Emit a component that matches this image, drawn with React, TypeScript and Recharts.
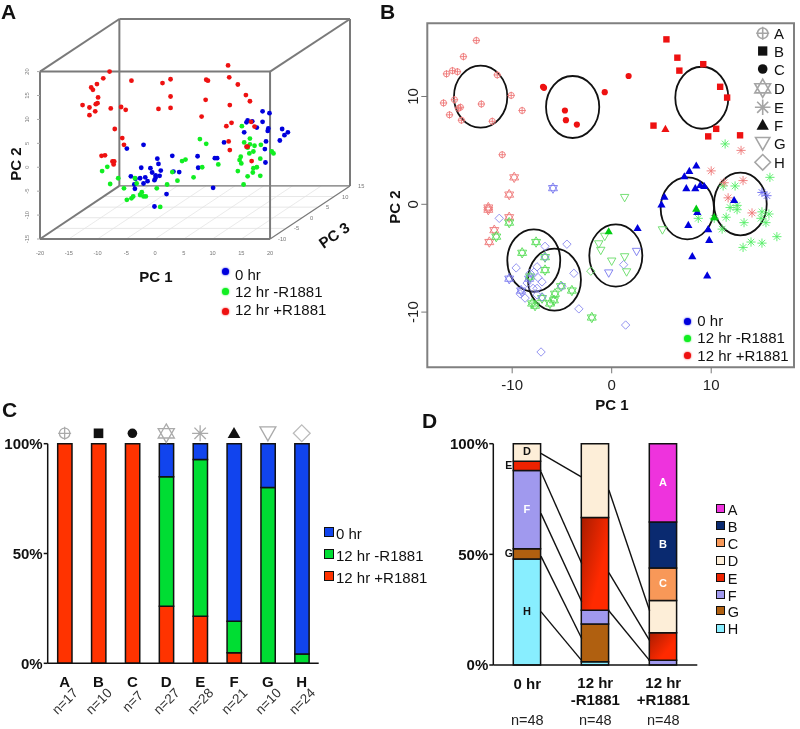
import React from 'react';
import {
  BarChart, Bar, Cell, LabelList, ScatterChart, Scatter, XAxis, YAxis,
  ReferenceLine, ReferenceArea, ReferenceDot,
} from 'recharts';

const FONT = '"Liberation Sans", Arial, sans-serif';
const BLUE = '#0000dd';
const GREEN = '#11ee22';
const RED = '#ee1111';

// Panel A: PC1 / PC2 as they read against the front face of the box
const aBlue = [
  [18.7, 11.7], [19.9, 11.3], [16.1, 9.8], [16.9, 9.6], [15.9, 9.4], [18.7, 9.5], [17.7, 8.3], [19.7, 8.1],
  [19.6, 7.6], [15.5, 7.3], [22.1, 8.0], [23.1, 7.3], [22.5, 6.7], [21.7, 5.6], [19.3, 5.4], [19.1, 3.8],
  [12.0, 5.2], [19.2, 1.0], [-2.0, 4.7], [-4.9, 3.9], [0.4, 1.8], [3.0, 2.4], [0.6, 0.7], [-2.4, -0.1],
  [-0.8, -0.2], [-0.5, -1.1], [1.0, -0.7], [0.8, -1.8], [0.1, -2.2], [-0.1, -2.7], [-1.7, -2.1], [-1.3, -2.9],
  [-2.0, -3.4], [-4.2, -1.9], [-2.6, -2.3], [-3.4, -2.4], [-3.6, -3.6], [-3.5, -4.5], [3.2, -0.9], [4.2, -1.0],
  [7.4, 2.3], [7.5, -0.1], [10.4, 1.9], [10.8, 1.9], [10.1, -4.3], [2.0, -5.6], [-0.1, -8.2], [0.1, -1.7],
];
const aGreen = [
  [15.1, 8.6], [7.8, 5.9], [8.9, 4.9], [16.5, 6.0], [15.5, 5.2], [16.5, 4.8], [17.3, 4.5], [18.4, 4.7],
  [16.1, 4.1], [17.1, 3.3], [16.4, 2.9], [14.9, 2.2], [14.7, 1.5], [15.0, 0.8], [20.3, 3.3], [20.6, 2.9],
  [18.3, 1.8], [17.7, 0.0], [17.1, -0.2], [17.0, -1.1], [16.1, -1.9], [18.3, -1.8], [14.4, -0.8], [15.4, -3.6],
  [11.0, 0.6], [8.2, 0.0], [6.7, -2.1], [5.3, 1.6], [4.7, 1.3], [3.0, -1.0], [3.9, -2.8], [2.1, -3.6],
  [0.3, -4.4], [-3.5, -2.3], [-6.4, -2.3], [-8.3, 0.1], [-9.2, -0.8], [-7.8, -3.5], [-3.2, -3.4], [-5.4, -4.4],
  [-4.9, -6.8], [-4.1, -6.5], [-3.8, -6.1], [-2.6, -5.8], [-2.3, -5.2], [-2.0, -6.1], [-1.6, -6.1], [0.9, -8.3],
];
const aRed = [
  [12.7, 21.3], [12.9, 18.8], [14.4, 17.3], [15.8, 15.1], [16.5, 13.8], [13.0, 13.0], [8.9, 18.3], [9.2, 18.1],
  [8.8, 14.1], [8.1, 10.6], [2.7, 18.4], [1.3, 17.6], [2.7, 14.8], [2.7, 12.4], [0.6, 12.2], [-4.1, 18.1],
  [-7.9, 20.0], [-9.0, 18.6], [-10.1, 17.4], [-11.1, 16.7], [-10.8, 16.2], [-9.9, 14.6], [-10.0, 13.4], [-10.3, 13.2],
  [-11.4, 12.5], [-12.6, 13.0], [-10.4, 11.7], [-11.4, 10.9], [-7.7, 12.3], [-5.9, 12.6], [-5.1, 12.0], [-7.0, 8.0],
  [-5.7, 6.1], [-5.4, 4.7], [-9.3, 2.4], [-8.7, 2.5], [-7.4, 1.2], [-7.1, 1.2], [-7.2, 0.6], [13.3, 9.3],
  [12.4, 8.6], [16.7, 9.5], [17.3, 8.5], [12.8, 5.4], [13.0, 3.6], [16.1, 4.3], [16.8, 1.3], [15.9, 4.3],
];
const aPc1Ticks = [-20, -15, -10, -5, 0, 5, 10, 15, 20];
const aPc2Ticks = [-15, -10, -5, 0, 5, 10, 15, 20];
const aPc3Ticks = [-10, -5, 0, 5, 10, 15];

// Panel B: PC1 / PC2, one list per symbol and treatment
const bRedA = [
  [-13.6, 15.2], [-14.9, 13.7], [-16.6, 12.1], [-16.0, 12.4], [-15.5, 12.3], [-11.5, 12.0], [-10.1, 10.1], [-9.0, 8.7], [-16.9, 9.4],
  [-15.8, 9.7], [-16.3, 8.3], [-15.2, 9.0], [-15.4, 8.9], [-15.1, 7.8], [-13.1, 9.3], [-12.0, 7.7], [-11.0, 4.6],
];
const bRedB = [[5.5, 15.3], [6.6, 13.6], [6.8, 12.4], [9.2, 13.0], [10.9, 10.9], [11.6, 9.9], [4.2, 7.3], [10.5, 7.0], [9.7, 6.3], [12.9, 6.4]];
const bRedC = [[1.7, 11.9], [-0.7, 10.4], [-6.9, 10.9], [-6.8, 10.8], [-4.7, 8.7], [-4.6, 7.8], [-3.5, 7.4]];
const bRedD = [[-9.8, 2.5], [-10.3, 0.9], [-12.4, -0.3], [-12.4, -0.5], [-10.3, -1.2], [-11.8, -2.4], [-12.3, -3.5]];
const bBlueD = [[-5.9, 1.5], [-10.3, -6.9], [-9.1, -8.0], [-8.3, -6.9]];
const bGreenD = [
  [-10.3, -1.7], [-11.6, -3.0], [-7.6, -3.5], [-9.0, -4.5], [-6.7, -4.9], [-6.7, -6.1], [-8.2, -6.7], [-5.1, -7.6],
  [-4.0, -8.0], [-5.7, -8.3], [-5.8, -8.9], [-6.2, -9.2], [-7.0, -8.7], [-8.0, -9.2], [-7.7, -9.4], [-2.0, -10.5],
];
const bRedE = [[13.0, 5.0], [10.0, 3.1], [13.2, 2.2], [11.3, 2.0], [11.7, 0.6], [14.1, -0.8]];
const bBlueE = [[15.1, 1.1], [15.6, 0.8]];
const bGreenE = [
  [11.4, 5.6], [15.9, 2.5], [12.4, 1.7], [11.2, 1.7], [12.6, -0.1], [11.9, -0.3], [12.6, -0.5], [11.5, -1.2], [10.3, -1.3], [8.7, -1.3],
  [13.3, -1.7], [15.1, -0.7], [15.8, -0.9], [15.0, -1.3], [15.5, -1.7], [16.6, -3.0], [15.1, -3.6], [14.0, -3.5], [13.2, -4.0], [11.1, -2.3],
];
const bRedF = [[5.4, 7.0]];
const bGreenF = [[8.5, -0.4], [-0.3, -2.5], [10.3, -1.2]];
const bBlueF = [
  [8.5, 3.6], [7.8, 3.1], [7.3, 2.6], [7.5, 1.5], [8.4, 1.5], [8.9, 1.8], [9.3, 1.7], [5.3, 0.7], [5.0, 0.0],
  [8.6, -0.7], [7.7, -1.9], [9.7, -2.3], [9.8, -3.3], [12.3, 0.4], [2.6, -2.2], [8.1, -4.8], [9.6, -6.6],
];
const bGreenG = [[1.3, 0.6], [-0.7, -3.0], [-1.3, -3.7], [-1.1, -4.3], [0.0, -5.3], [1.3, -4.9], [1.5, -6.3], [5.1, -2.4]];
const bBlueG = [[2.5, -4.4], [-0.3, -6.4]];
const bGreenH = [[-2.1, -6.2]];
const bBlueH = [
  [-11.3, -1.3], [-6.7, -3.9], [-4.5, -3.7], [-9.6, -5.9], [-7.5, -5.8], [-7.8, -6.3], [-7.4, -6.8], [-7.0, -7.2],
  [-3.8, -6.4], [-7.5, -7.8], [-8.7, -8.7], [-9.2, -8.3], [-7.0, -8.6], [-7.5, -8.4], [-5.0, -7.6], [-3.3, -9.7],
  [-6.7, -4.9], [1.2, -5.6], [1.4, -11.2], [-7.1, -13.7], [-8.2, -6.4], [-7.9, -7.8], [-8.5, -7.3],
];
// x1, x2, y1, y2 of the cluster rings
const bRings = [
  [-15.85, -10.49, 12.86, 7.11], [-6.6, -1.25, 11.9, 6.15], [6.39, 11.72, 12.76, 7.01], [4.92, 10.28, 2.5, -3.25],
  [10.28, 15.58, 2.93, -2.88], [-2.25, 3.08, -1.86, -7.64], [-10.49, -5.17, -2.32, -8.11], [-8.41, -3.09, -4.12, -9.87],
];
const bTicks = [-10, 0, 10];
const bLegendKinds = ['A', 'B', 'C', 'D', 'E', 'F', 'G', 'H'];

// Panel C: percent of each gene cluster
const cNames = ['A', 'B', 'C', 'D', 'E', 'F', 'G', 'H'];
const cCounts = [17, 10, 7, 27, 28, 21, 10, 24];
const cRed = [100, 100, 100, 26, 21.4, 4.8, 0, 0];
const cGreen = [0, 0, 0, 59, 71.4, 14.3, 80, 4.2];
const cBlue = [0, 0, 0, 15, 7.2, 80.9, 20, 95.8];

// Panel D: percent of each treatment, bottom of the stack first
const dNames = ['0 hr', '12 hr|-R1881', '12 hr|+R1881'];
const dH = [47.9, 1.5, 0];
const dG = [4.6, 17, 0];
const dF = [35.4, 6.2, 2.1];
const dE = [4.2, 42, 12.5];
const dD = [7.9, 33.3, 14.6];
const dC = [0, 0, 14.6];
const dB = [0, 0, 20.8];
const dA = [0, 0, 35.4];
const dColors: Record<string, string> = {
  A: '#ee33dd', B: '#0a2a70', C: '#f89858', D: '#fdeed8', E: '#ee2200', F: '#a099ee', G: '#b06010', H: '#88eeff',
};
const dStackOrder = ['H', 'G', 'F', 'E', 'D', 'C', 'B', 'A'];
const dLegendOrder = ['A', 'B', 'C', 'D', 'E', 'F', 'G', 'H'];
const dLabelBar: Record<string, number> = { A: 2, B: 2, C: 2, D: 0, E: 0, F: 0, G: 0, H: 0 };
// position across the bars (0 to 2), percent at each end
const dLinks = [
  [0.467, 95.6, 0.867, 84.9], [0.467, 87.3, 0.867, 45.9], [0.467, 68.5, 0.867, 28.6], [0.467, 49.2, 0.867, 12.0], [0.467, 24.1, 0.867, 2.0],
  [1.133, 79.1, 1.533, 24.5], [1.133, 41.7, 1.533, 11.0], [1.133, 24.5, 1.533, 2.0],
];

const toPoints = (rows: number[][]) => rows.map(([x, y]) => ({ x, y }));

const MarkShape = ({ kind, cx, cy, color, sw = 0.9, scale = 1 }: any) => {
  const r = scale;
  if (kind === 'A') {
    return (
      <g stroke={color} strokeWidth={sw} fill="none">
        <circle cx={cx} cy={cy} r={3 * r} />
        <path d={`M${cx - 3.7 * r} ${cy}H${cx + 3.7 * r}M${cx} ${cy - 3.7 * r}V${cy + 3.7 * r}`} />
      </g>
    );
  }
  if (kind === 'B') return <rect x={cx - 3.2 * r} y={cy - 3.2 * r} width={6.4 * r} height={6.4 * r} fill={color} />;
  if (kind === 'C') return <circle cx={cx} cy={cy} r={3.1 * r} fill={color} />;
  if (kind === 'D') {
    const a = 5.2 * r;
    const b = 4.5 * r;
    const h = 2.6 * r;
    return (
      <path
        d={`M${cx} ${cy - a}L${cx + b} ${cy + h}H${cx - b}ZM${cx} ${cy + a}L${cx + b} ${cy - h}H${cx - b}Z`}
        stroke={color} strokeWidth={sw} fill="none"
      />
    );
  }
  if (kind === 'E') {
    const a = 4.6 * r;
    const d = 3.25 * r;
    return (
      <path
        d={`M${cx - a} ${cy}H${cx + a}M${cx} ${cy - a}V${cy + a}M${cx - d} ${cy - d}L${cx + d} ${cy + d}M${cx - d} ${cy + d}L${cx + d} ${cy - d}`}
        stroke={color} strokeWidth={sw} fill="none"
      />
    );
  }
  if (kind === 'F') {
    const b = 4.1 * r;
    return <path d={`M${cx} ${cy - b}L${cx + b} ${cy + 3.1 * r}H${cx - b}Z`} fill={color} />;
  }
  if (kind === 'G') {
    const b = 4.2 * r;
    return <path d={`M${cx - b} ${cy - 3.4 * r}H${cx + b}L${cx} ${cy + 4 * r}Z`} stroke={color} strokeWidth={sw} fill="none" />;
  }
  const b = 4.2 * r;
  return <path d={`M${cx} ${cy - b}L${cx + b} ${cy}L${cx} ${cy + b}L${cx - b} ${cy}Z`} stroke={color} strokeWidth={sw} fill="none" />;
};

const Caption = ({ x, y, text, size = 15, bold = false, rotate = 0, left = false, color = '#111' }: any) => (
  <div
    style={{
      position: 'absolute', left: x, top: y, fontSize: size, fontWeight: bold ? 700 : 400, color, whiteSpace: 'nowrap',
      lineHeight: 1, transform: `translate(${left ? '0' : '-50%'}, -50%) rotate(${rotate}deg)`,
    }}
  >
    {text}
  </div>
);

const Swatch = ({ x, y, size, color }: any) => (
  <div
    style={{
      position: 'absolute', left: x, top: y, width: size, height: size, background: color,
      border: '1.5px solid #111', boxSizing: 'border-box',
    }}
  />
);

const Dot = ({ x, y, color }: any) => (
  <div
    style={{
      position: 'absolute', left: x - 3.5, top: y - 3.5, width: 7, height: 7, borderRadius: 4, background: color,
      boxShadow: `0 0 2px ${color}`,
    }}
  />
);

const dotShape = (color: string) => (p: any) => <circle cx={p.cx} cy={p.cy} r={2.4} fill={color} />;
const markShape = (kind: string, color: string) => (p: any) => <MarkShape kind={kind} cx={p.cx} cy={p.cy} color={color} />;

const ringShape = (p: any) => (
  <ellipse
    cx={p.x + p.width / 2} cy={p.y + p.height / 2} rx={p.width / 2} ry={p.height / 2}
    fill="none" stroke="#111" strokeWidth={1.8}
  />
);

const BOX = '#7a7a7a';
const PanelA = () => {
  // Depth on the floor: each PC3 step moves back along the box edge
  const floor = (pc1: number, pc3: number) => ({ x: pc1 + ((pc3 + 10) / 25) * 13.9, y: -15 + ((pc3 + 10) / 25) * 11.1 });
  const line = (a: any, b: any, key: string, stroke = BOX, w = 2) => (
    <ReferenceLine key={key} segment={[a, b]} stroke={stroke} strokeWidth={w} ifOverflow="extendDomain" />
  );
  return (
    <div style={{ position: 'absolute', left: 0, top: 0 }}>
      <ScatterChart width={400} height={300} margin={{ top: 19, right: 50, bottom: 0, left: 0 }}>
        <XAxis
          dataKey="x" type="number" domain={[-20, 33.9]} ticks={aPc1Ticks} height={61} interval={0}
          tick={{ fontSize: 5.7, fill: '#777' }} tickLine={false} axisLine={false} tickMargin={6} allowDataOverflow
        />
        <YAxis
          dataKey="y" type="number" domain={[-15, 31]} ticks={aPc2Ticks} width={40} interval={0}
          axisLine={false} tickSize={3} tickLine={{ stroke: '#aaa' }} tickMargin={8} allowDataOverflow
          tick={(p: any) => (
            <text x={p.x} y={p.y} transform={`rotate(-90 ${p.x} ${p.y})`} textAnchor="middle" fontSize={5.7} fill="#777">
              {p.payload.value}
            </text>
          )}
        />
        {aPc1Ticks.map((t) => line(floor(t, -10), floor(t, 15), `d${t}`, '#e4e4e4', 0.8))}
        {aPc3Ticks.map((t) => line(floor(-20, t), floor(20, t), `w${t}`, '#e0e0e0', 0.8))}
        {line({ x: -6.2, y: -3.9 }, { x: -6.2, y: 31 }, 'b1')}
        {line({ x: -6.2, y: 31 }, { x: 33.9, y: 31 }, 'b2')}
        {line({ x: 33.9, y: 31 }, { x: 33.9, y: -3.9 }, 'b3')}
        {line({ x: 33.9, y: -3.9 }, { x: -6.2, y: -3.9 }, 'b4', BOX, 1.2)}
        {line({ x: -20, y: 20 }, { x: -6.2, y: 31 }, 'c1')}
        {line({ x: 20, y: 20 }, { x: 33.9, y: 31 }, 'c2')}
        {line({ x: -20, y: -15 }, { x: -6.2, y: -3.9 }, 'c3')}
        {line({ x: 20, y: -15 }, { x: 33.9, y: -3.9 }, 'c4', BOX, 1.2)}
        {aPc3Ticks.map((t) => (
          <ReferenceDot
            key={t} {...floor(20, t)} r={0} stroke="none" fill="none" ifOverflow="visible"
            label={{ value: t, position: 'right', offset: 8, fontSize: 5.7, fill: '#777' }}
          />
        ))}
        <Scatter data={toPoints(aBlue)} shape={dotShape(BLUE)} isAnimationActive={false} />
        <Scatter data={toPoints(aGreen)} shape={dotShape(GREEN)} isAnimationActive={false} />
        <Scatter data={toPoints(aRed)} shape={dotShape(RED)} isAnimationActive={false} />
        {line({ x: -20, y: -15 }, { x: 20, y: -15 }, 'f1')}
        {line({ x: -20, y: 20 }, { x: 20, y: 20 }, 'f2')}
        {line({ x: -20, y: -15 }, { x: -20, y: 20 }, 'f3')}
        {line({ x: 20, y: -15 }, { x: 20, y: 20 }, 'f4')}
      </ScatterChart>
    </div>
  );
};

const PanelB = () => {
  const groups: [string, string, number[][]][] = [
    ['A', '#ee7777', bRedA], ['B', RED, bRedB], ['C', RED, bRedC], ['D', '#ee7777', bRedD],
    ['D', '#7777ee', bBlueD], ['D', '#55dd55', bGreenD], ['H', '#8888ee', bBlueH], ['H', '#66dd66', bGreenH],
    ['E', '#55ee66', bGreenE], ['E', '#ee7777', bRedE], ['E', '#6666ee', bBlueE], ['G', '#66dd66', bGreenG], ['G', '#7777ee', bBlueG],
    ['F', RED, bRedF], ['F', BLUE, bBlueF], ['F', '#00cc11', bGreenF],
  ];
  return (
    <div style={{ position: 'absolute', left: 380, top: 0 }}>
      <ScatterChart width={420} height={420} margin={{ top: 23.3, right: 6, bottom: 0, left: 0 }}>
        <XAxis
          dataKey="x" type="number" domain={[-18.53, 18.32]} ticks={bTicks} height={52.7} interval={0}
          tick={{ fontSize: 15, fill: '#222' }} tickSize={6} tickLine={{ stroke: '#777' }} axisLine={false} tickMargin={6} allowDataOverflow
        />
        <YAxis
          dataKey="y" type="number" domain={[-15.12, 16.79]} ticks={bTicks} width={47.3} interval={0}
          axisLine={false} tickSize={6} tickLine={{ stroke: '#777' }} tickMargin={3} allowDataOverflow
          tick={(p: any) => (
            <text x={p.x} y={p.y} transform={`rotate(-90 ${p.x} ${p.y})`} textAnchor="middle" fontSize={15} fill="#222">
              {p.payload.value}
            </text>
          )}
        />
        {groups.map(([kind, color, rows], i) => (
          <Scatter key={i} data={toPoints(rows)} shape={markShape(kind, color)} isAnimationActive={false} />
        ))}
        <ReferenceArea x1={-18.53} x2={18.32} y1={-15.12} y2={16.79} fill="none" stroke="#808080" strokeWidth={2} isFront />
        {bRings.map(([x1, x2, y1, y2], i) => (
          <ReferenceArea key={i} x1={x1} x2={x2} y1={y1} y2={y2} shape={ringShape} isFront />
        ))}
      </ScatterChart>
    </div>
  );
};

const cTable = cNames.map((name, i) => ({ name, count: cCounts[i], red: cRed[i], green: cGreen[i], blue: cBlue[i] }));
const cMarkColor: Record<string, string> = { A: '#aaa', B: '#111', C: '#111', D: '#aaa', E: '#aaa', F: '#111', G: '#aaa', H: '#bbb' };
const cMarkScale: Record<string, number> = { A: 1.75, B: 1.5, C: 1.55, D: 1.8, E: 1.75, F: 1.55, G: 1.9, H: 2 };
const bLegendScale: Record<string, number> = { A: 1.75, B: 1.45, C: 1.55, D: 1.75, E: 1.7, F: 1.5, G: 1.7, H: 1.85 };

const PanelC = () => (
  <div style={{ position: 'absolute', left: 0, top: 400 }}>
    <BarChart width={320} height={329} data={cTable} margin={{ top: 0, right: 1.3, bottom: 0, left: 0 }}>
      <XAxis
        dataKey="name" height={65.7} interval={0} stroke="#111" strokeWidth={1.5} tickLine={false}
        tick={(p: any) => {
          const i = cNames.indexOf(p.payload.value);
          return (
            <g>
              <text x={p.x} y={683.5 - 400} textAnchor="middle" dominantBaseline="middle" fontSize={15} fontWeight={700} fill="#111">
                {p.payload.value}
              </text>
              <text
                x={p.x + 1} y={702 - 400} transform={`rotate(-45 ${p.x + 1} ${702 - 400})`} textAnchor="middle"
                dominantBaseline="middle" fontSize={13.5} fill="#333"
              >
                {`n=${cCounts[i]}`}
              </text>
            </g>
          );
        }}
      />
      <XAxis
        xAxisId="marks" dataKey="name" orientation="top" height={43.7} interval={0} axisLine={false} tickLine={false}
        tick={(p: any) => (
          <MarkShape kind={p.payload.value} cx={p.x} cy={33.3} color={cMarkColor[p.payload.value]} sw={1.3} scale={cMarkScale[p.payload.value]} />
        )}
      />
      <YAxis
        domain={[0, 100]} ticks={[0, 50, 100]} width={47.7} stroke="#111" strokeWidth={1.5} tickSize={4} tickMargin={1}
        tick={{ fontSize: 15, fontWeight: 700, fill: '#111' }} tickFormatter={(v: number) => `${v}%`}
      />
      <Bar dataKey="red" stackId="s" fill="#ff3300" stroke="#111" strokeWidth={1.5} barSize={14.3} isAnimationActive={false} />
      <Bar dataKey="green" stackId="s" fill="#00dd33" stroke="#111" strokeWidth={1.5} barSize={14.3} isAnimationActive={false} />
      <Bar dataKey="blue" stackId="s" fill="#1144ee" stroke="#111" strokeWidth={1.5} barSize={14.3} isAnimationActive={false} />
    </BarChart>
  </div>
);

const dColumns: Record<string, number[]> = { A: dA, B: dB, C: dC, D: dD, E: dE, F: dF, G: dG, H: dH };
const dTable = dNames.map((name, i) => {
  const row: Record<string, any> = { name };
  dStackOrder.forEach((k) => { row[k] = dColumns[k][i]; });
  return row;
});

const segmentLabel = (key: string) => (p: any) => {
  if (p.value !== dColumns[key][dLabelBar[key]]) return null;
  const outside = key === 'E' || key === 'G';
  const white = key === 'A' || key === 'B' || key === 'C' || key === 'F';
  return (
    <text
      x={outside ? p.x - 4.5 : p.x + p.width / 2} y={p.y + p.height / 2} textAnchor="middle" dominantBaseline="middle"
      fontSize={outside ? 10.5 : 11} fontWeight={700} fill={white ? '#fff' : '#111'}
    >
      {key}
    </text>
  );
};

const PanelD = () => (
  <div style={{ position: 'absolute', left: 420, top: 400 }}>
    <BarChart width={280} height={329} data={dTable} margin={{ top: 43.7, right: 2.7, bottom: 0, left: 0 }}>
      <defs>
        <linearGradient id="redShade" x1="0" y1="0" x2="0.7" y2="0.6">
          <stop offset="0" stopColor="#a81c00" />
          <stop offset="1" stopColor="#ff2a00" />
        </linearGradient>
      </defs>
      <XAxis
        dataKey="name" height={64} interval={0} stroke="#111" strokeWidth={1.5} tickLine={false}
        tick={(p: any) => {
          const lines = p.payload.value.split('|');
          return (
            <g>
              {lines.map((t: string, i: number) => (
                <text
                  key={t} x={p.x} y={(lines.length === 1 ? 285.5 : 284 + i * 17)} textAnchor="middle"
                  dominantBaseline="middle" fontSize={15} fontWeight={700} fill="#111"
                >
                  {t}
                </text>
              ))}
              <text x={p.x} y={321} textAnchor="middle" dominantBaseline="middle" fontSize={14.5} fill="#222">n=48</text>
            </g>
          );
        }}
      />
      <XAxis xAxisId="link" type="number" domain={[0, 2]} allowDataOverflow hide />
      <YAxis
        domain={[0, 100]} ticks={[0, 50, 100]} width={73.3} stroke="#111" strokeWidth={1.5} tickSize={4} tickMargin={1}
        tick={{ fontSize: 15, fontWeight: 700, fill: '#111' }} tickFormatter={(v: number) => `${v}%`}
      />
      {dLinks.map(([x1, y1, x2, y2], i) => (
        <ReferenceLine
          key={i} xAxisId="link" segment={[{ x: x1, y: y1 }, { x: x2, y: y2 }]} stroke="#111" strokeWidth={1.4}
        />
      ))}
      {dStackOrder.map((k) => (
        <Bar key={k} dataKey={k} stackId="s" fill={dColors[k]} stroke="#111" strokeWidth={1.5} barSize={27.3} isAnimationActive={false}>
          {dNames.map((n, i) => (
            <Cell key={n} fill={k === 'E' && i > 0 ? 'url(#redShade)' : dColors[k]} />
          ))}
          <LabelList dataKey={k} content={segmentLabel(k)} />
        </Bar>
      ))}
    </BarChart>
  </div>
);

export default function App() {
  const bLegendY = [33.3, 51, 69, 88.3, 107.3, 125, 143.3, 162.3];
  const solid = ['B', 'C', 'F'];
  return (
    <div style={{ position: 'absolute', left: 0, top: 0, width: 800, height: 729, background: '#fff', fontFamily: FONT, overflow: 'hidden', filter: 'blur(0.3px)' }}>
      <PanelC />
      <PanelD />
      <PanelA />
      <PanelB />

      <Caption x={1} y={10.5} text="A" size={21} bold left />
      <Caption x={380} y={10.5} text="B" size={21} bold left />
      <Caption x={2} y={408.5} text="C" size={21} bold left />
      <Caption x={422} y={420} text="D" size={21} bold left />

      <Caption x={15} y={164} text="PC 2" bold size={15} rotate={-90} />
      <Caption x={156} y={276} text="PC 1" bold size={15} />
      <Caption x={334} y={235} text="PC 3" bold size={15} rotate={-35} />
      <Dot x={225.7} y={271.7} color={BLUE} />
      <Dot x={225.7} y={291.7} color={GREEN} />
      <Dot x={225.7} y={311.7} color={RED} />
      <Caption x={235} y={274} text="0 hr" left />
      <Caption x={235} y={291} text="12 hr -R1881" left />
      <Caption x={235} y={309} text="12 hr +R1881" left />

      <Caption x={394} y={207} text="PC 2" bold size={15} rotate={-90} />
      <Caption x={612} y={404} text="PC 1" bold size={15} />
      <svg width={800} height={729} style={{ position: 'absolute', left: 0, top: 0, pointerEvents: 'none' }}>
        {bLegendKinds.map((k, i) => (
          <MarkShape
            key={k} kind={k} cx={762.7} cy={bLegendY[i]} color={solid.includes(k) ? '#111' : '#a5a5a5'}
            sw={1.6} scale={bLegendScale[k]}
          />
        ))}
      </svg>
      {bLegendKinds.map((k, i) => <Caption key={k} x={774} y={bLegendY[i]} text={k} size={15} left />)}
      <Dot x={687} y={321} color={BLUE} />
      <Dot x={687} y={338} color={GREEN} />
      <Dot x={687} y={355} color={RED} />
      <Caption x={697.3} y={320} text="0 hr" left />
      <Caption x={697.3} y={337} text="12 hr -R1881" left />
      <Caption x={697.3} y={355} text="12 hr +R1881" left />

      <Swatch x={324} y={527} size={9.5} color="#1144ee" />
      <Swatch x={324} y={549} size={9.5} color="#00dd33" />
      <Swatch x={324} y={571} size={9.5} color="#ff3300" />
      <Caption x={336} y={533} text="0 hr" left />
      <Caption x={336} y={555} text="12 hr -R1881" left />
      <Caption x={336} y={577} text="12 hr +R1881" left />

      {dLegendOrder.map((k, i) => (
        <React.Fragment key={k}>
          <Swatch x={716} y={[508.3, 525.3, 542.7, 560, 577.3, 594.7, 610.7, 628][i] - 4.5} size={9} color={dColors[k]} />
          <Caption x={727.7} y={[509.5, 526.5, 544, 561, 578.5, 595.5, 612, 629][i]} text={k} size={14.5} left />
        </React.Fragment>
      ))}
    </div>
  );
}
